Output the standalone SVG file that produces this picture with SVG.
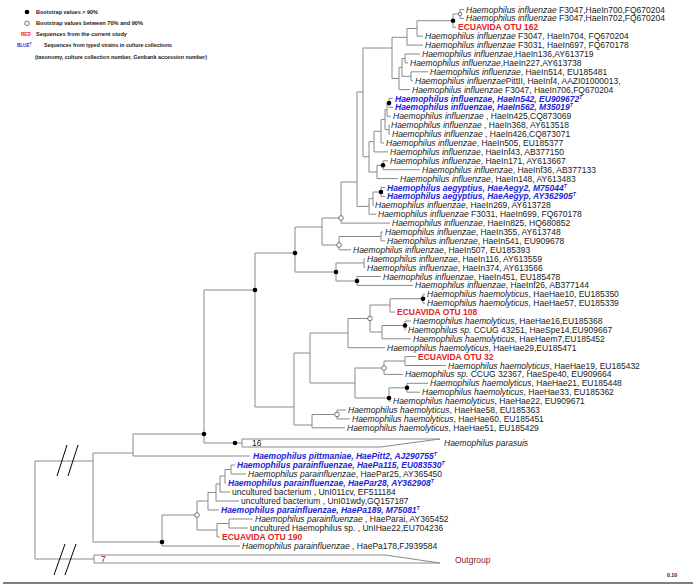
<svg xmlns="http://www.w3.org/2000/svg" width="699" height="587" viewBox="0 0 699 587">
<style>
text{font-family:"Liberation Sans",Arial,sans-serif;font-size:8.5px;fill:#1a1a1a}
.i{font-style:italic}
.b{font-weight:bold;font-style:italic;fill:#2424d8}
.r{font-weight:bold;fill:#e42222}
.lg{font-size:5.2px;font-weight:bold}
.br{fill:#8b1a1a}
.ln{fill:none;stroke:#8a8a8a;stroke-width:1}
.dot{fill:#000}
.oc{fill:#fff;stroke:#555;stroke-width:0.8}
.cut{stroke:#000;stroke-width:1}
</style>
<rect width="699" height="587" fill="#fff"/>
<g id="legend">
<circle cx="27" cy="12" r="2.3" class="dot"/>
<text x="36" y="14" class="lg" textLength="62" lengthAdjust="spacingAndGlyphs">Bootstrap values &gt; 90%</text>
<circle cx="27" cy="23.3" r="2.3" class="oc"/>
<text x="36" y="25.3" class="lg" textLength="107" lengthAdjust="spacingAndGlyphs">Bootstrap values between 70% and 90%</text>
<text x="21" y="36" class="lg" style="fill:#e42222;font-size:4.6px">RED</text>
<text x="36" y="36" class="lg" textLength="91" lengthAdjust="spacingAndGlyphs">Sequences from the current study</text>
<text x="17" y="47" class="lg" style="fill:#2424d8;font-size:4.6px">BLUE<tspan dy="-2" font-size="3.5">T</tspan></text>
<text x="44" y="47" class="lg" textLength="128" lengthAdjust="spacingAndGlyphs">Sequences from typed strains in culture collections</text>
<text x="35" y="59.3" class="lg" textLength="172" lengthAdjust="spacingAndGlyphs">(taxonomy, culture collection number, Genbank accession number)</text>
</g>
<g id="connectors" class="ln">
<path d="M460 9.5V18.4M460 9.5H464M460 18.4H464M453 14H460M453 14V27.3M453 27.3H456M417 20.7H453M417 20.7V36.2M417 36.2H423M407 28.5H417M407 28.5V45.1M407 45.1H423M392 37.3H407"/>
<path d="M405 54V62.9M405 54H420M405 62.9H408M402 58.5H405M411 71.8V80.7M411 71.8H428M411 80.7H413M402 76.3H411M402 58.5V76.3M399 67.4H402M399 67.4V89.6M399 89.6H410M392 78.5H399M392 37.3V78.5M363 48H392"/>
<path d="M389 98.5V107.4M389 98.5H393M389 107.4H393M387 103H389M387 103V116.3M387 116.3H391M389 125.2V134.1M389 125.2H390M389 134.1H390M385 109.6H387M385 129.6H389M385 109.6V129.6M381 119.6H385M381 119.6V143M381 143H384M374 131.3H381M374 131.3V151.9M374 151.9H388M369 141.6H374"/>
<path d="M383 160.8V169.7M383 160.8H388M383 169.7H420M377 165.3H383M377 165.3V178.6M377 178.6H398M369 172H377M369 141.6V172M363 156.8H369M363 48V156.8M357 92H363"/>
<path d="M381 187.5V196.4M381 187.5H385M381 196.4H385M373 192H381M373 192V205.3M373 205.3H374M369 198.6H373M369 198.6V214.2M369 214.2H376M357 206.4H369M357 92V206.4M341 182H357M341 182V223.1M341 223.1H390M322 218H341"/>
<path d="M381 232V240.9M381 232H383M381 240.9H385M339 236.5H381M339 236.5V249.8M339 249.8H351M322 245H339M322 218V245M295 227H322"/>
<path d="M364 258.7V267.6M364 258.7H365M364 267.6H365M336 263H364M357 276.5V285.4M357 276.5H381M357 285.4H413M336 281H357M336 263V281M295 272H336M295 227V272M255 253H295"/>
<path d="M423 294.3V303.2M423 294.3H425M423 303.2H425M390 298.7H423M390 298.7V312.1M390 312.1H395M370 305H390M405 321V329.9M405 321H411M405 329.9H406M382 325.5H405M382 325.5V338.8M382 338.8H411M370 332H382M370 305V332M348 318.5H370M348 318.5V347.7M348 347.7H385M310 333H348"/>
<path d="M405 356.6V365.5M405 356.6H416M405 365.5H446M384 361H405M384 361V374.4M384 374.4H403M355 368H384M407 383.3V392.2M407 383.3H428M407 392.2H420M389 387.8H407M389 387.8V401.1M389 401.1H391M355 398H389M355 368V398M310 383H355M310 333V383M294 353H310"/>
<path d="M337 410V418.9M337 410H346M337 418.9H350M312 414.5H337M312 414.5V427.8M312 427.8H345M294 425H312M294 353V425M255 407H294M255 253V407M204 290H255M204 290V443M204 443H242M133 434H204M133 434V456M133 456H250M93 453H133"/>
<path d="M231 465V474M231 465H235M231 474H246M225 469.5H231M225 469.5V483M225 483H226M220 476H225M220 476V492M220 492H230M216 484H220M216 484V501M216 501H239M208 492.5H216M208 492.5V510M208 510H219M197 501H208"/>
<path d="M229 519V528M229 519H253M229 528H248M217 523.5H229M217 523.5V537M217 537H220M197 530H217M197 501V530M162 515H197M162 515V546M162 546H240M93 542H162M93 453V542M35 461H93M35 461V559M35 559H94"/>
<path d="M242 439H440L380 447H242Z"/>
<path d="M94 555H385L440 563H94Z"/>
<path class="cut" d="M57 476L67 445M68 476L78 445M54 575L65 544M65 575L76 544"/>
<path d="M3 583H693" style="stroke:#555;stroke-width:1.5"/>
</g>
<g id="bootstrap">
<circle cx="453" cy="20.7" r="2.3" class="dot"/>
<circle cx="389" cy="103" r="2.3" class="dot"/>
<circle cx="383" cy="165.3" r="2.3" class="dot"/>
<circle cx="381" cy="192" r="2.3" class="dot"/>
<circle cx="357" cy="281" r="2.3" class="dot"/>
<circle cx="336" cy="272" r="2.3" class="dot"/>
<circle cx="295" cy="253" r="2.3" class="dot"/>
<circle cx="255" cy="290" r="2.3" class="dot"/>
<circle cx="423" cy="298.7" r="2.3" class="dot"/>
<circle cx="405" cy="325.5" r="2.3" class="dot"/>
<circle cx="407" cy="387.8" r="2.3" class="dot"/>
<circle cx="389" cy="398" r="2.3" class="dot"/>
<circle cx="204" cy="434" r="2.3" class="dot"/>
<circle cx="235" cy="443" r="2.3" class="dot"/>
<circle cx="162" cy="542" r="2.3" class="dot"/>
<circle cx="460" cy="14" r="1.8" class="oc"/>
<circle cx="341" cy="218" r="2.3" class="oc"/>
<circle cx="339" cy="245" r="2.3" class="oc"/>
<circle cx="370" cy="318.5" r="2.3" class="oc"/>
<circle cx="384" cy="368" r="2.3" class="oc"/>
<circle cx="337" cy="414.5" r="2.3" class="oc"/>
<circle cx="197" cy="515" r="2.3" class="oc"/>
</g>
<g id="t1"><text x="466" y="12.5"><tspan class="i">Haemophilus influenzae</tspan> F3047,HaeIn700,FQ670204</text></g>
<g id="t2"><text x="466" y="21.4"><tspan class="i">Haemophilus influenzae</tspan> F3047,HaeIn702,FQ670204</text></g>
<g id="t3"><text x="458" y="30.3" class="r">ECUAVIDA OTU 162</text></g>
<g id="t4"><text x="425" y="39.2"><tspan class="i">Haemophilus influenzae</tspan> F3047, HaeIn704, FQ670204</text></g>
<g id="t5"><text x="425" y="48.1"><tspan class="i">Haemophilus influenzae</tspan> F3031, HaeIn697, FQ670178</text></g>
<g id="t6"><text x="422" y="57"><tspan class="i">Haemophilus influenzae</tspan>,HaeIn136,AY613719</text></g>
<g id="t7"><text x="410" y="65.9"><tspan class="i">Haemophilus influenzae</tspan>,HaeIn227,AY613738</text></g>
<g id="t8"><text x="430" y="74.8"><tspan class="i">Haemophilus influenzae</tspan>, HaeIn514, EU185481</text></g>
<g id="t9"><text x="415" y="83.7"><tspan class="i">Haemophilus influenzae</tspan>PittII, HaeInf4, AAZI01000013,</text></g>
<g id="t10"><text x="412" y="92.6"><tspan class="i">Haemophilus influenzae</tspan> F3047, HaeIn706,FQ670204</text></g>
<g id="t11"><text x="395" y="101.5" class="b">Haemophilus influenzae, HaeIn542, EU909672<tspan dy="-3" font-size="5">T</tspan></text></g>
<g id="t12"><text x="395" y="110.4" class="b">Haemophilus influenzae, HaeIn562, M35019<tspan dy="-3" font-size="5">T</tspan></text></g>
<g id="t13"><text x="393" y="119.3"><tspan class="i">Haemophilus influenzae</tspan> , HaeIn425,CQ873069</text></g>
<g id="t14"><text x="391" y="128.2"><tspan class="i">Haemophilus influenzae</tspan> , HaeIn368, AY613518</text></g>
<g id="t15"><text x="392" y="137.1"><tspan class="i">Haemophilus influenzae</tspan> , HaeIn426,CQ873071</text></g>
<g id="t16"><text x="386" y="146"><tspan class="i">Haemophilus influenzae</tspan>, HaeIn505, EU185377</text></g>
<g id="t17"><text x="390" y="154.9"><tspan class="i">Haemophilus influenzae</tspan>, HaeInf43, AB377150</text></g>
<g id="t18"><text x="390" y="163.8"><tspan class="i">Haemophilus influenzae</tspan>, HaeIn171, AY613667</text></g>
<g id="t19"><text x="422" y="172.7"><tspan class="i">Haemophilus influenzae</tspan>, HaeInf36, AB377133</text></g>
<g id="t20"><text x="400" y="181.6"><tspan class="i">Haemophilus influenzae</tspan>, HaeIn148, AY613483</text></g>
<g id="t21"><text x="387" y="190.5" class="b">Haemophilus aegyptius, HaeAegy2, M75044<tspan dy="-3" font-size="5">T</tspan></text></g>
<g id="t22"><text x="387" y="199.4" class="b">Haemophilus aegyptius, HaeAegyp, AY362905<tspan dy="-3" font-size="5">T</tspan></text></g>
<g id="t23"><text x="375" y="208.3"><tspan class="i">Haemophilus influenzae</tspan>, HaeIn269, AY613728</text></g>
<g id="t24"><text x="378" y="217.2"><tspan class="i">Haemophilus influenzae</tspan> F3031, HaeIn699, FQ670178</text></g>
<g id="t25"><text x="392" y="226.1"><tspan class="i">Haemophilus influenzae</tspan>, HaeIn825, HQ680852</text></g>
<g id="t26"><text x="385" y="235"><tspan class="i">Haemophilus influenzae</tspan>, HaeIn355, AY613748</text></g>
<g id="t27"><text x="387" y="243.9"><tspan class="i">Haemophilus influenzae</tspan>, HaeIn541, EU909678</text></g>
<g id="t28"><text x="353" y="252.8"><tspan class="i">Haemophilus influenzae</tspan>, HaeIn507, EU185393</text></g>
<g id="t29"><text x="367" y="261.7"><tspan class="i">Haemophilus influenzae</tspan>, HaeIn116, AY613559</text></g>
<g id="t30"><text x="367" y="270.6"><tspan class="i">Haemophilus influenzae</tspan>, HaeIn374, AY613566</text></g>
<g id="t31"><text x="383" y="279.5"><tspan class="i">Haemophilus influenzae</tspan>, HaeIn451, EU185478</text></g>
<g id="t32"><text x="415" y="288.4"><tspan class="i">Haemophilus influenzae</tspan>, HaeInf26, AB377144</text></g>
<g id="t33"><text x="427" y="297.3"><tspan class="i">Haemophilus haemolyticus</tspan>, HaeHae10, EU185350</text></g>
<g id="t34"><text x="427" y="306.2"><tspan class="i">Haemophilus haemolyticus</tspan>, HaeHae57, EU185339</text></g>
<g id="t35"><text x="397" y="315.1" class="r">ECUAVIDA OTU 108</text></g>
<g id="t36"><text x="413" y="324"><tspan class="i">Haemophilus haemolyticus</tspan>, HaeHae16,EU185368</text></g>
<g id="t37"><text x="408" y="332.9"><tspan class="i">Haemophilus sp.</tspan> CCUG 43251, HaeSpe14,EU909667</text></g>
<g id="t38"><text x="413" y="341.8"><tspan class="i">Haemophilus haemolyticus</tspan>, HaeHaem7,EU185452</text></g>
<g id="t39"><text x="387" y="350.7"><tspan class="i">Haemophilus haemolyticus</tspan>, HaeHae29,EU185471</text></g>
<g id="t40"><text x="418" y="359.6" class="r">ECUAVIDA OTU 32</text></g>
<g id="t41"><text x="448" y="368.5"><tspan class="i">Haemophilus haemolyticus</tspan>, HaeHae19, EU185432</text></g>
<g id="t42"><text x="405" y="377.4"><tspan class="i">Haemophilus sp.</tspan> CCUG 32367, HaeSpe40, EU909664</text></g>
<g id="t43"><text x="430" y="386.3"><tspan class="i">Haemophilus haemolyticus</tspan>, HaeHae21, EU185448</text></g>
<g id="t44"><text x="422" y="395.2"><tspan class="i">Haemophilus haemolyticus</tspan>, HaeHae33, EU185362</text></g>
<g id="t45"><text x="393" y="404.1"><tspan class="i">Haemophilus haemolyticus</tspan>, HaeHae22, EU909671</text></g>
<g id="t46"><text x="348" y="413"><tspan class="i">Haemophilus haemolyticus</tspan>, HaeHae58, EU185363</text></g>
<g id="t47"><text x="352" y="421.9"><tspan class="i">Haemophilus haemolyticus</tspan>, HaeHae60, EU185451</text></g>
<g id="t48"><text x="347" y="430.8"><tspan class="i">Haemophilus haemolyticus</tspan>, HaeHae51, EU185429</text></g>
<g id="t49"><text x="252" y="446">16</text><text x="444" y="446" class="i">Haemophilus parasuis</text></g>
<g id="t50"><text x="253" y="459" class="b">Haemophilus pittmaniae, HaePitt2, AJ290755<tspan dy="-3" font-size="5">T</tspan></text></g>
<g id="t51"><text x="237" y="468" class="b">Haemophilus parainfluenzae, HaePa115, EU083530<tspan dy="-3" font-size="5">T</tspan></text></g>
<g id="t52"><text x="248" y="477"><tspan class="i">Haemophilus parainfluenzae</tspan>, HaePar25, AY365450</text></g>
<g id="t53"><text x="228" y="486" class="b">Haemophilus parainfluenzae, HaePar28, AY362908<tspan dy="-3" font-size="5">T</tspan></text></g>
<g id="t54"><text x="232" y="495">uncultured bacterium , UnI011cv, EF511184</text></g>
<g id="t55"><text x="241" y="504">uncultured bacterium , UnI01wdy,GQ157187</text></g>
<g id="t56"><text x="221" y="513" class="b">Haemophilus parainfluenzae, HaePa189, M75081<tspan dy="-3" font-size="5">T</tspan></text></g>
<g id="t57"><text x="255" y="522"><tspan class="i">Haemophilus parainfluenzae</tspan> , HaeParai, AY365452</text></g>
<g id="t58"><text x="250" y="531">uncultured Haemophilus sp. , UnIHae22,EU704236</text></g>
<g id="t59"><text x="222" y="540" class="r">ECUAVIDA OTU 190</text></g>
<g id="t60"><text x="242" y="549"><tspan class="i">Haemophilus parainfluenzae</tspan> , HaePa178,FJ939584</text></g>
<g id="t61"><text x="101" y="562" class="br">7</text><text x="455" y="563" class="br">Outgroup</text></g>
<g id="scale"><text x="667" y="577" class="lg">0.10</text></g>
</svg>
